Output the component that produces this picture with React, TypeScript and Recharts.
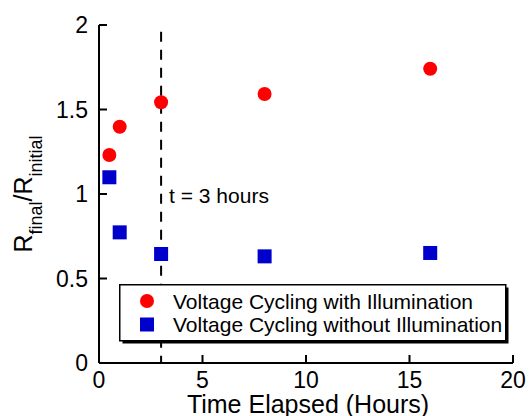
import React from "react";
import {
  Legend,
  ReferenceDot,
  ReferenceLine,
  Scatter,
  ScatterChart,
  XAxis,
  YAxis,
} from "recharts";

const hours = [0.5, 1, 3, 8, 16];
const withLight = [1.231, 1.398, 1.543, 1.592, 1.741];
const withoutLight = [1.099, 0.773, 0.645, 0.631, 0.651];
const xTicks = [0, 5, 10, 15, 20];
const yTicks = [0, 0.5, 1, 1.5, 2];
const seriesNames = [
  "Voltage Cycling with Illumination",
  "Voltage Cycling without Illumination",
];

const FONT = "'Liberation Sans', Arial, sans-serif";
const RED = "#ff0000";
const BLUE = "#0000cc";

const redData = hours.map((x, i) => ({ x, y: withLight[i] }));
const blueData = hours.map((x, i) => ({ x, y: withoutLight[i] }));

// ticks point inward, labels sit outside the frame
function XTick(props: any) {
  const { x, y, payload } = props;
  return (
    <g>
      <line x1={x} y1={y} x2={x} y2={y - 8} stroke="#000" strokeWidth={2} />
      <text x={x} y={y + 25} textAnchor="middle" fontFamily={FONT} fontSize={23} fill="#000">
        {payload.value}
      </text>
    </g>
  );
}

function YTick(props: any) {
  const { x, y, payload } = props;
  return (
    <g>
      <line x1={x} y1={y} x2={x + 8} y2={y} stroke="#000" strokeWidth={2} />
      <text x={x - 11} y={y} dy="0.36em" textAnchor="end" fontFamily={FONT} fontSize={23} fill="#000">
        {payload.value}
      </text>
    </g>
  );
}

function Circle(props: any) {
  return <circle cx={props.cx} cy={props.cy} r={7} fill={RED} />;
}

function Square(props: any) {
  return <rect x={props.cx - 7} y={props.cy - 7} width={14} height={14} fill={BLUE} />;
}

function XLabel(props: any) {
  const vb = props.viewBox;
  return (
    <text x={vb.x + vb.width / 2 + 2} y={vb.y + 50} textAnchor="middle" fontFamily={FONT} fontSize={25} fill="#000">
      Time Elapsed (Hours)
    </text>
  );
}

function YLabel(props: any) {
  const vb = props.viewBox;
  const cx = 32;
  const cy = vb.y + vb.height / 2;
  return (
    <text
      x={cx}
      y={cy}
      transform={`rotate(-90 ${cx} ${cy})`}
      textAnchor="middle"
      fontFamily={FONT}
      fontSize={25}
      fill="#000"
    >
      <tspan>R</tspan>
      <tspan fontSize={18} dy={10}>final</tspan>
      <tspan dy={-10}>/R</tspan>
      <tspan fontSize={18} dy={10}>initial</tspan>
    </text>
  );
}

function NoteLabel(props: any) {
  const vb = props.viewBox;
  return (
    <text x={vb.x + 8} y={vb.y + 9} fontFamily={FONT} fontSize={21} fill="#000">
      t = 3 hours
    </text>
  );
}

function LegendBox() {
  return (
    <svg width={392} height={62} style={{ display: "block" }}>
      <rect x={3.5} y={3.5} width={386} height={56} fill="#000" />
      <rect x={0.75} y={0.75} width={386} height={56} fill="#fff" stroke="#000" strokeWidth={1.5} />
      <circle cx={28} cy={17} r={7} fill={RED} />
      <rect x={21} y={33.5} width={14} height={14} fill={BLUE} />
      <text x={54} y={24.5} fontFamily={FONT} fontSize={21} fill="#000">
        {seriesNames[0]}
      </text>
      <text x={54} y={47.5} fontFamily={FONT} fontSize={21} fill="#000">
        {seriesNames[1]}
      </text>
    </svg>
  );
}

export default function App() {
  return (
    <div style={{ position: "absolute", left: 0, top: 0, background: "#fff" }}>
      <ScatterChart width={529} height={416} margin={{ top: 25, right: 16, bottom: 0, left: 0 }}>
        <XAxis
          type="number"
          dataKey="x"
          domain={[0, 20]}
          ticks={xTicks}
          interval={0}
          height={53}
          tickSize={0}
          tickMargin={0}
          tickLine={false}
          tick={<XTick />}
          axisLine={{ stroke: "#000", strokeWidth: 2 }}
          label={<XLabel />}
        />
        <XAxis
          xAxisId="top"
          orientation="top"
          type="number"
          dataKey="x"
          domain={[0, 20]}
          height={0}
          tick={false}
          tickLine={false}
          axisLine={{ stroke: "#000", strokeWidth: 2 }}
        />
        <YAxis
          type="number"
          dataKey="y"
          domain={[0, 2]}
          ticks={yTicks}
          interval={0}
          width={99}
          tickSize={0}
          tickMargin={0}
          tickLine={false}
          tick={<YTick />}
          axisLine={{ stroke: "#000", strokeWidth: 2 }}
          label={<YLabel />}
        />
        <YAxis
          yAxisId="right"
          orientation="right"
          type="number"
          dataKey="y"
          domain={[0, 2]}
          width={0}
          tick={false}
          tickLine={false}
          axisLine={{ stroke: "#000", strokeWidth: 2 }}
        />
        <Scatter name={seriesNames[0]} data={redData} shape={<Circle />} isAnimationActive={false} />
        <Scatter name={seriesNames[1]} data={blueData} shape={<Square />} isAnimationActive={false} />
        <ReferenceLine
          segment={[
            { x: 3, y: 1.96 },
            { x: 3, y: 0 },
          ]}
          stroke="#000"
          strokeWidth={2}
          strokeDasharray="10 8"
        />
        <ReferenceDot x={3} y={1} r={0} fill="none" stroke="none" label={<NoteLabel />} />
        <Legend
          layout="horizontal"
          align="center"
          verticalAlign="middle"
          content={<LegendBox />}
          wrapperStyle={{ position: "absolute", left: 119, top: 284, width: 392, height: 62 }}
        />
      </ScatterChart>
    </div>
  );
}
